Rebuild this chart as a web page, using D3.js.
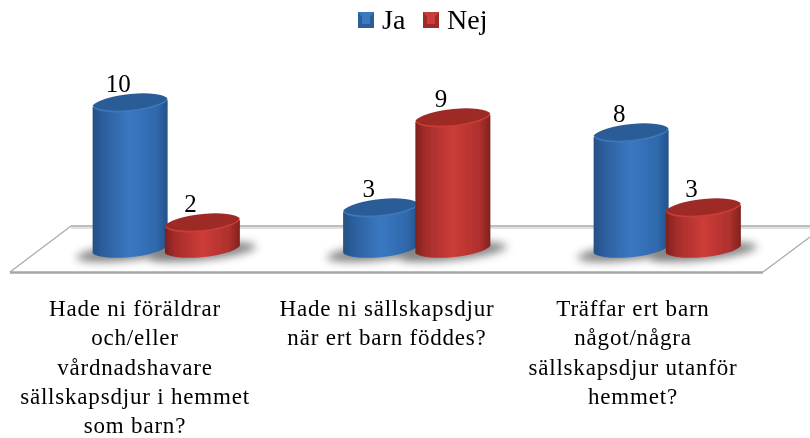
<!DOCTYPE html>
<html><head><meta charset="utf-8">
<script src="https://cdn.jsdelivr.net/npm/d3@7"></script>
<style>html,body{margin:0;padding:0;background:#fff}svg{display:block}text{font-family:"Liberation Serif",serif;fill:#000}</style>
</head><body><svg id="c" width="810" height="438"></svg>
<script>
const categories=["Hade ni föräldrar och/eller vårdnadshavare sällskapsdjur i hemmet som barn?","Hade ni sällskapsdjur när ert barn föddes?","Träffar ert barn något/några sällskapsdjur utanför hemmet?"];
const categoryLines=[["Hade ni föräldrar","och/eller","vårdnadshavare","sällskapsdjur i hemmet","som barn?"],["Hade ni sällskapsdjur","när ert barn föddes?"],["Träffar ert barn","något/några","sällskapsdjur utanför","hemmet?"]];
const seriesNames=["Ja","Nej"];
const ja=[10,3,8];
const nej=[2,9,3];
const seriesValues=[ja,nej];

const svg=d3.select("#c");
const defs=svg.append("defs");
const pal={Ja:{stops:["#244f86","#2c5f9e","#3a78c2","#2f68ab","#24518a"],top:"#2b5d98",rim:"#3d78bb"},
           Nej:{stops:["#7e211e","#a52d2a","#cd3c38","#ad302d","#80221f"],top:"#9e2b28",rim:"#c93c37"}};
seriesNames.forEach(s=>{
  const g=defs.append("linearGradient").attr("id","g"+s);
  [0,.14,.5,.86,1].forEach((o,i)=>g.append("stop").attr("offset",o).attr("stop-color",pal[s].stops[i]));
});
defs.append("filter").attr("id","soft").attr("x","-50%").attr("y","-150%").attr("width","200%").attr("height","400%")
  .append("feGaussianBlur").attr("stdDeviation",4);
defs.append("filter").attr("id","txt").append("feGaussianBlur").attr("stdDeviation",0.35);
defs.append("filter").attr("id","barSoft").attr("x","-5%").attr("y","-5%").attr("width","110%").attr("height","110%")
  .append("feGaussianBlur").attr("stdDeviation",0.6);

const x0=d3.scaleBand().domain(categories).range([42,793.5]);
const x1=d3.scaleBand().domain(seriesNames).range([52,196.5]);
const y=d3.scaleLinear().domain([0,10]).range([257,107]);
const labelX=d3.scaleOrdinal().domain(categories).range([135,387,633]);
const barW=75, baseY=253, lean=3.5, ry=10.5;

// floor
svg.append("path").attr("d","M71,226L10,272L763,272L810,237L810,226Z").attr("fill","#fff");
svg.append("path").attr("d","M71,228L810,228").attr("stroke","#e0e0e0").attr("stroke-width",2).attr("fill","none");
svg.append("path").attr("d","M71,226L810,226").attr("stroke","#a8a8a8").attr("stroke-width",1.5).attr("fill","none");
svg.append("path").attr("d","M71,226L10,272").attr("stroke","#a8a8a8").attr("stroke-width",1.2).attr("fill","none");
svg.append("path").attr("d","M763,272L810,237").attr("stroke","#a8a8a8").attr("stroke-width",1.2).attr("fill","none");
svg.append("path").attr("d","M10,272.5L763,272.5").attr("stroke","#a6a6a6").attr("stroke-width",2.5).attr("fill","none");

const items=[];
categories.forEach((c,ci)=>seriesNames.forEach((s,si)=>items.push({c,ci,s,si,v:seriesValues[si][ci]})));
const cxOf=d=>x0(d.c)+x1(d.s)+x1.bandwidth()/2;

// shadows
svg.append("g").selectAll("ellipse").data(items).join("ellipse")
  .attr("cx",d=>cxOf(d)).attr("cy",baseY-1)
  .attr("rx",54).attr("ry",8)
  .attr("transform",d=>`rotate(-6 ${cxOf(d)} ${baseY-1})`)
  .attr("fill","#666").attr("opacity",.8).attr("filter","url(#soft)");

// cylinders
const bars=svg.append("g").selectAll("g").data(items).join("g").attr("filter","url(#barSoft)");
bars.each(function(d){
  const g=d3.select(this), cx=cxOf(d), L=cx-barW/2, R=cx+barW/2, t=y(d.v);
  const arc=(x,yy,sw)=>`A${barW/2+1},${ry} -6 0 ${sw} ${x},${yy}`;
  g.append("path").attr("d",`M${L},${t}L${L},${baseY}A${barW/2+1},9.5 -6 0 0 ${R},${baseY-2*lean}L${R},${t-2*lean}Z`).attr("fill",`url(#g${d.s})`);
  g.append("path").attr("d",`M${L},${t}${arc(R,t-2*lean,0)}${arc(L,t,0)}Z`).attr("fill",pal[d.s].rim);
  g.append("path").attr("d",`M${L},${t-1.5}A${barW/2+1},${ry-.5} -6 0 1 ${R},${t-2*lean-1.5}A${barW/2+1},${ry-.5} -6 0 1 ${L},${t-1.5}Z`).attr("fill",pal[d.s].top);
});

const tg=svg.append("g").attr("filter","url(#txt)");
// value labels
tg.append("g").selectAll("text").data(items).join("text")
  .attr("x",d=>cxOf(d)-12).attr("y",d=>y(d.v)-15).attr("text-anchor","middle").attr("font-size",25)
  .text(d=>d.v);
// category labels
const lab=tg.append("g").selectAll("text").data(categories).join("text")
  .attr("text-anchor","middle").attr("font-size",23).attr("letter-spacing",0.8);
lab.each(function(c,i){
  d3.select(this).selectAll("tspan").data(categoryLines[i]).join("tspan")
    .attr("x",labelX(c)).attr("y",(l,j)=>316+j*29.3).text(l=>l);
});
// legend
const legendX=d3.scaleOrdinal().domain(seriesNames).range([358,423]);
const leg=svg.append("g").selectAll("g").data(seriesNames).join("g").attr("transform",s=>`translate(${legendX(s)},12)`);
leg.append("rect").attr("width",16).attr("height",16).attr("fill",s=>pal[s].top);
leg.append("path").attr("d","M0,0L16,0L12,5L4,5Z").attr("fill",s=>pal[s].rim);
leg.append("rect").attr("x",4).attr("y",5).attr("width",8).attr("height",7).attr("fill",s=>pal[s].stops[2]);
tg.append("g").selectAll("text").data(seriesNames).join("text")
  .attr("x",s=>legendX(s)+24).attr("y",29).attr("font-size",28).text(s=>s);
</script></body></html>
